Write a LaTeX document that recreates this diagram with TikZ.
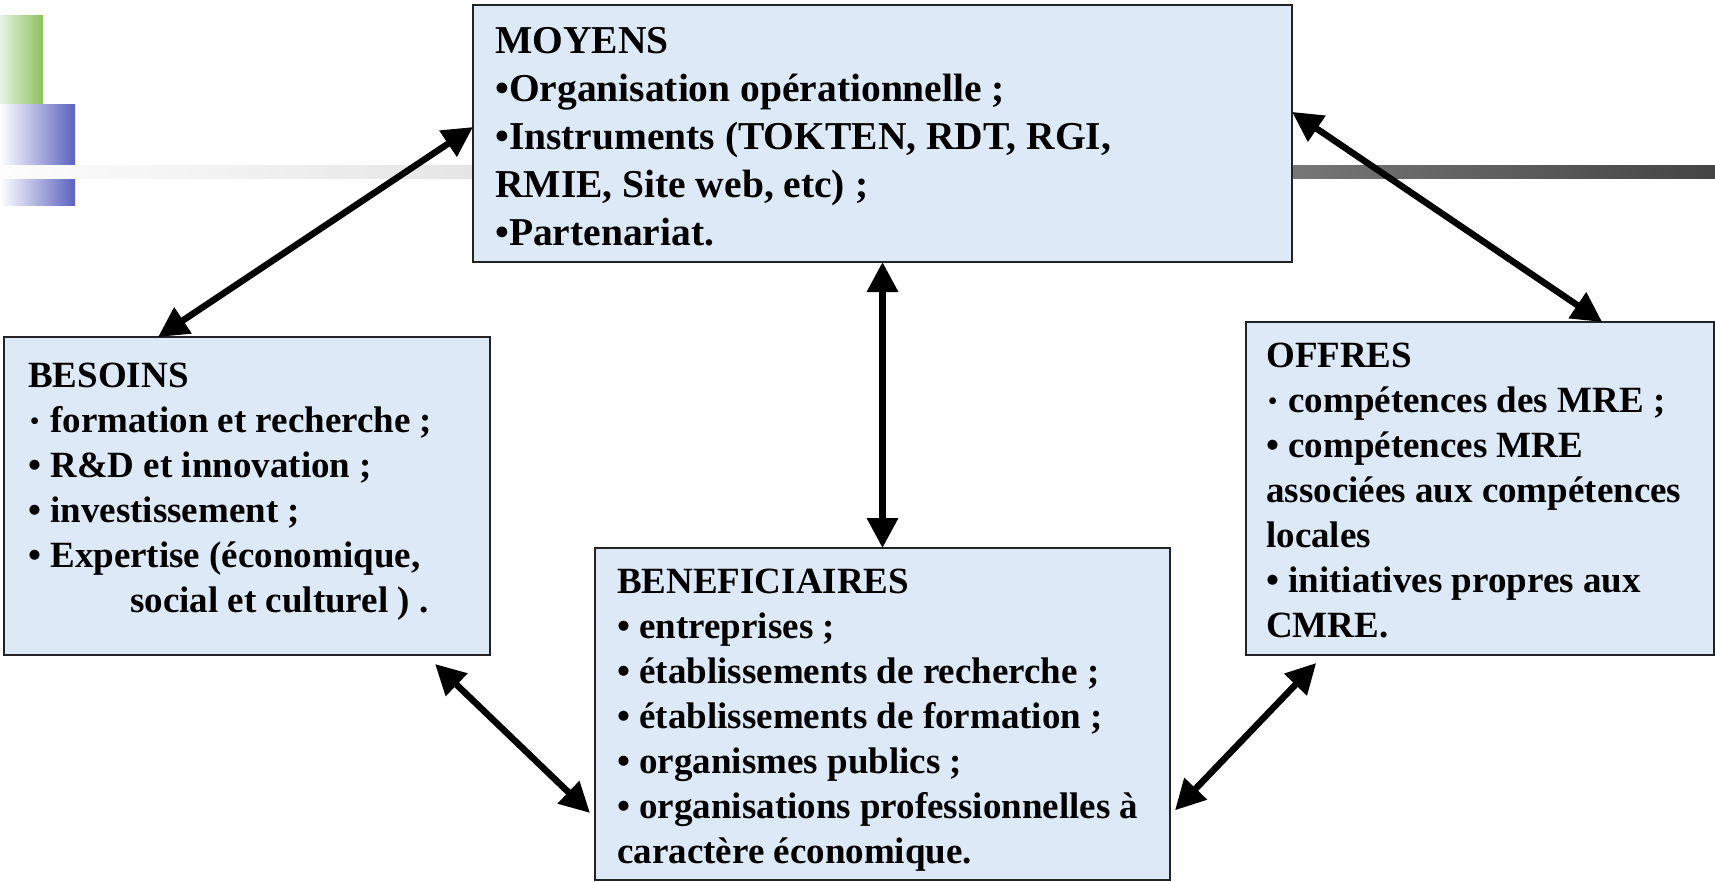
\documentclass[tikz,border=0pt]{standalone}
\usepackage{fontspec}
\setmainfont{Liberation Serif}
\usetikzlibrary{arrows.meta,calc}
\definecolor{boxfill}{RGB}{221,233,247}
\definecolor{boxline}{RGB}{35,35,35}
\definecolor{decogreen}{RGB}{139,193,90}
\definecolor{decogreenl}{RGB}{232,242,228}
\definecolor{decoblue}{RGB}{91,98,192}
\definecolor{barA}{RGB}{253,253,253}
\definecolor{barB}{RGB}{229,229,229}
\definecolor{barC}{RGB}{119,119,119}
\definecolor{barD}{RGB}{68,68,68}
\newcommand{\smallbul}{\hbox to 0.35em{\hss\raisebox{2.8pt}{\fontsize{25pt}{25pt}\selectfont •}\hss}}
\begin{document}
\begin{tikzpicture}[x=1pt,y=-1pt,
  panel/.style={draw=boxline, line width=1.8pt, fill=boxfill, anchor=north west, inner sep=0pt, outer sep=0pt},
  bodytext/.style={anchor=north west, inner sep=0pt, align=left, font=\bfseries\fontsize{37pt}{45pt}\selectfont},
  bigtext/.style={anchor=north west, inner sep=0pt, align=left, font=\bfseries\fontsize{39.5pt}{48pt}\selectfont},
  biarrow/.style={line width=6.5pt, {Triangle[length=30pt,width=30pt]}-{Triangle[length=30pt,width=30pt]}}]
\useasboundingbox (0,0) rectangle (1715,881);
\fill[white] (0,0) rectangle (1715,881);
% decorations
\shade[left color=decogreenl, right color=decogreen] (0,15) rectangle (43,104);
\shade[left color=white, right color=decoblue] (0,104) rectangle (75,205);
\shade[left color=barA, right color=barB] (0,165) rectangle (473,178);
\shade[left color=barB, right color=barC] (473,165) rectangle (1292,178);
\shade[left color=barC, right color=barD] (1292,165) rectangle (1715,178);
% boxes
\node[panel, minimum width=819pt, minimum height=257pt] (moyens) at (473,5) {};
\node[panel, minimum width=486pt, minimum height=318pt] (besoins) at (4,337) {};
\node[panel, minimum width=468pt, minimum height=333pt] (offres) at (1246,322) {};
\node[panel, minimum width=575pt, minimum height=332pt] (benef) at (595,548) {};
% texts
\node[bigtext] (moyenstxt) at (495,22) {\rule{0pt}{31pt}MOYENS\\
•Organisation opérationnelle ;\\
•Instruments (TOKTEN, RDT, RGI,\\
RMIE, Site web, etc) ;\\
•Partenariat.};
\node[bodytext] (besoinstxt) at (28,357) {\rule{0pt}{30pt}BESOINS\\
\smallbul{} formation et recherche ;\\
• R\&D et innovation ;\\
• investissement ;\\
• Expertise (économique,\\
\hspace*{102pt}social et culturel ) .};
\node[bodytext] (offrestxt) at (1266,337) {\rule{0pt}{30pt}OFFRES\\
\smallbul{} compétences des MRE ;\\
• compétences MRE\\
associées aux compétences\\
locales\\
• initiatives propres aux\\
CMRE.};
\node[bodytext] (beneftxt) at (617,563) {\rule{0pt}{30pt}BENEFICIAIRES\\
• entreprises ;\\
• établissements de recherche ;\\
• établissements de formation ;\\
• organismes publics ;\\
• organisations professionnelles à\\
caractère économique.};
% connectors
\draw[biarrow] ($(moyens.north west)!0.475!(moyens.south west)$) -- ($(besoins.north west)!0.317!(besoins.north east)$);
\draw[biarrow] ($(moyens.north east)!0.416!(moyens.south east)$) -- ($(offres.north west)!0.761!(offres.north east)$);
\draw[biarrow] (moyens.south) -- (benef.north);
\draw[biarrow] ($(besoins.south west)!0.887!(besoins.south east)+(0,9)$) -- ($(benef.north west)!0.798!(benef.south west)+(-5,0)$);
\draw[biarrow] ($(offres.south west)!0.15!(offres.south east)+(0,8)$) -- ($(benef.north east)!0.79!(benef.south east)+(5,0)$);
\end{tikzpicture}
\end{document}
